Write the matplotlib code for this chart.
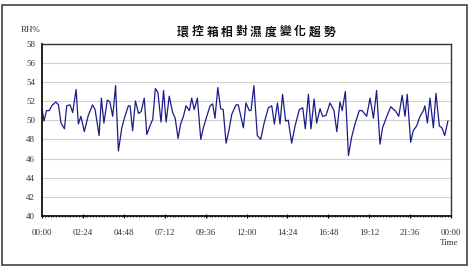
import matplotlib
matplotlib.use("Agg")
import matplotlib.pyplot as plt
from matplotlib.patches import Rectangle
from matplotlib.ticker import FixedLocator, MultipleLocator

# time of each reading, minutes after 00:00
minutes = [0, 7, 16, 26, 34, 49, 58, 67, 79, 87, 99, 108, 120, 128, 137, 149,
           163, 178, 187, 201, 209, 218, 230, 239, 249, 259, 269, 281, 292, 304,
           310, 319, 329, 340, 349, 360, 369, 380, 390, 399, 408, 419, 428, 437,
           448, 460, 469, 479, 488, 498, 507, 519, 527, 536, 547, 559, 568, 580,
           592, 601, 609, 619, 629, 638, 648, 658, 668, 683, 691, 709, 718, 730,
           736, 746, 758, 770, 782, 797, 809, 818, 829, 838, 847, 858, 867, 879,
           891, 906, 918, 927, 938, 947, 958, 967, 979, 988, 1000, 1014, 1028,
           1038, 1049, 1057, 1068, 1079, 1090, 1102, 1117, 1127, 1143, 1155,
           1167, 1178, 1190, 1199, 1214, 1228, 1246, 1256, 1268, 1278, 1286,
           1298, 1307, 1319, 1331, 1343, 1348, 1357, 1366, 1378, 1387, 1399,
           1408, 1418, 1429]
rh = [51.2, 49.9, 51.0, 51.0, 51.5, 51.9, 51.6, 49.7, 49.1, 51.5, 51.6, 50.8,
      53.2, 49.6, 50.4, 48.8, 50.5, 51.6, 51.1, 48.4, 52.3, 49.7, 52.1, 51.9,
      50.4, 53.6, 46.8, 49.2, 50.4, 51.5, 51.5, 48.9, 52.0, 50.7, 50.9, 52.3,
      48.5, 49.4, 50.1, 53.3, 52.9, 49.8, 53.1, 49.8, 52.5, 50.8, 50.2, 48.1,
      49.6, 50.4, 51.5, 51.0, 52.3, 51.1, 52.3, 48.0, 49.2, 50.4, 51.5, 51.7,
      50.2, 53.4, 51.2, 51.1, 47.6, 48.9, 50.6, 51.6, 51.6, 49.2, 51.8, 51.0,
      51.0, 53.6, 48.4, 48.0, 49.7, 51.3, 51.5, 49.6, 51.8, 49.6, 52.7, 49.9,
      50.0, 47.6, 49.4, 51.1, 51.3, 49.1, 52.7, 49.1, 52.2, 49.7, 51.2, 50.4,
      50.5, 51.8, 51.0, 48.8, 51.9, 51.0, 53.0, 46.3, 48.2, 49.6, 51.0, 51.0,
      50.4, 52.3, 50.2, 53.1, 47.5, 49.2, 50.4, 51.4, 50.9, 50.4, 52.6, 50.4,
      52.7, 47.7, 48.9, 49.4, 50.4, 51.0, 51.5, 49.7, 52.3, 49.2, 52.8, 49.4,
      49.2, 48.4, 49.9]

x_tick_minutes = [0, 144, 288, 432, 576, 720, 864, 1008, 1152, 1296, 1440]
x_tick_labels = ["00:00", "02:24", "04:48", "07:12", "09:36", "12:00",
                 "14:24", "16:48", "19:12", "21:36", "00:00"]
y_ticks = [40, 42, 44, 46, 48, 50, 52, 54, 56, 58]

title = "環控箱相對濕度變化趨勢"

W, H = 471, 267
fig = plt.figure(figsize=(W / 100, H / 100), dpi=100)
fig.patch.set_facecolor("white")

# outer frame
fig.patches.append(Rectangle((2 / W, 1 - 265 / H), 465 / W, 260 / H,
                             transform=fig.transFigure, fill=False,
                             edgecolor="#444444", linewidth=1.2))

ax = fig.add_axes([42 / W, 1 - 216 / H, 409 / W, 172.5 / H])
ax.plot(minutes, rh, color="#1c1c8a", linewidth=0.9)
ax.set_xlim(0, 1440)
ax.set_ylim(40, 58)
ax.set_yticks(y_ticks)
ax.set_yticklabels([str(v) for v in y_ticks])
ax.xaxis.set_major_locator(FixedLocator(x_tick_minutes))
ax.set_xticklabels(x_tick_labels)
ax.xaxis.set_minor_locator(MultipleLocator(10))
ax.yaxis.grid(True, color="#d0d0d0", linewidth=0.8)
ax.set_axisbelow(True)

serif = "Liberation Serif"
for lab in ax.get_xticklabels() + ax.get_yticklabels():
    lab.set_fontfamily(serif)
    lab.set_fontsize(6.5)
    lab.set_color("#333333")
ax.tick_params(axis="x", which="major", direction="inout", length=3, width=0.8,
               pad=8)
ax.tick_params(axis="x", which="minor", direction="inout", length=2, width=0.6)
ax.tick_params(axis="y", which="major", length=0, pad=5)
for side in ["left", "bottom"]:
    ax.spines[side].set_linewidth(1.3)
    ax.spines[side].set_color("#111111")
for side in ["top", "right"]:
    ax.spines[side].set_linewidth(1.0)
    ax.spines[side].set_color("#333333")

# title with wide letter spacing
x0, x1 = 183, 329
n = len(title)
for i, ch in enumerate(title):
    xc = x0 + (x1 - x0) * i / (n - 1)
    fig.text(xc / W, 1 - 32 / H, ch, ha="center", va="center", fontsize=8.5,
             family=["Noto Sans CJK TC", "DejaVu Sans"], color="#111111",
             fontweight="bold")
fig.text(31 / W, 1 - 30 / H, "RH%", ha="center", va="center", fontsize=6.5,
         family=serif, color="#333333")
fig.text(449 / W, 1 - 243 / H, "Time", ha="center", va="center", fontsize=6.5,
         family=serif, color="#333333")

fig.savefig("out.png", dpi=100, facecolor="white")
